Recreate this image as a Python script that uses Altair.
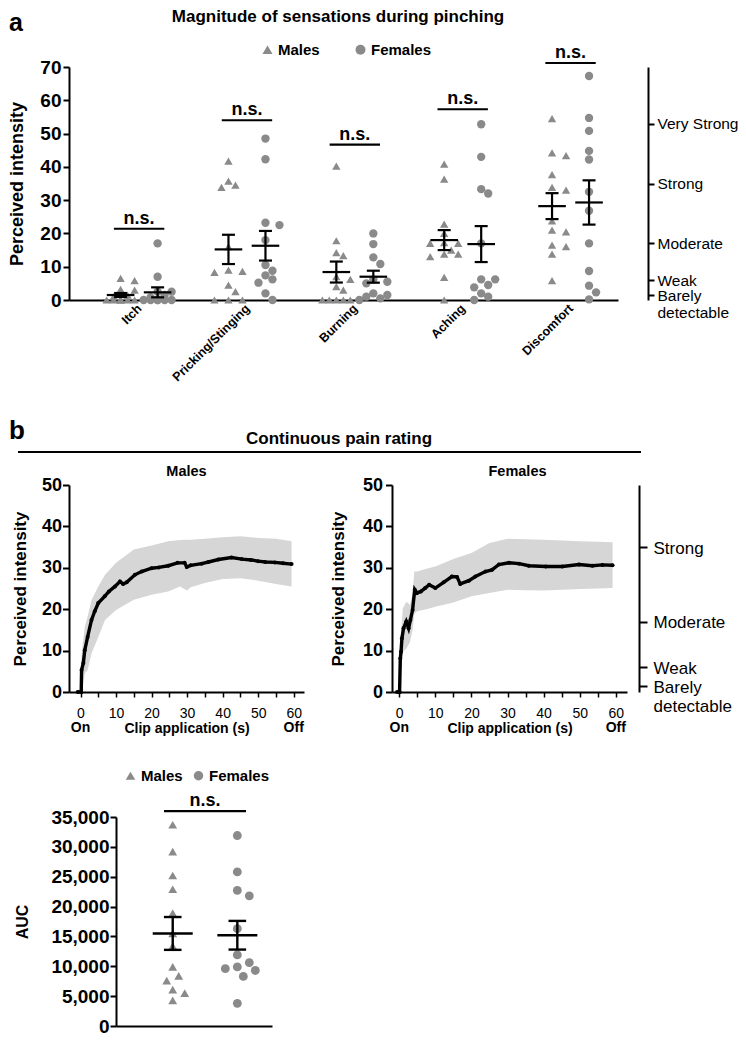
import json
import altair as alt
import pandas as pd

FONT = "Liberation Sans, Arial, Helvetica, sans-serif"
GRAY = "#8a8a8a"
BAND = "#d6d6d6"

# ---------------- panel a data ----------------
categories = ["Itch", "Pricking/Stinging", "Burning", "Aching", "Discomfort"]
itch_m = [6.5, 5.8, 3.2, 3.0, 1.5, 1.0, 0, 0, 0, 0, 0, 0, 0]
itch_f = [17.0, 7.0, 2.5, 2.5, 1.5, 0.8, 0, 0, 0, 0, 0, 0]
pricking_m = [41.7, 35.7, 34.5, 33.8, 16.0, 9.0, 8.6, 8.3, 4.5, 2.5, 0, 0, 0]
pricking_f = [48.5, 42.3, 23.2, 22.5, 18.0, 10.5, 8.8, 7.4, 6.2, 5.2, 2.0, 0]
burning_m = [40.2, 17.8, 14.2, 13.3, 7.0, 6.2, 4.0, 3.0, 0, 0, 0, 0, 0]
burning_f = [20.0, 16.8, 12.8, 10.8, 6.2, 5.5, 5.0, 2.0, 1.5, 1.0, 0.5, 0]
aching_m = [40.8, 36.3, 22.8, 20.0, 17.2, 17.0, 17.0, 15.0, 13.8, 13.8, 13.0, 6.8, 0]
aching_f = [52.8, 43.0, 33.3, 32.0, 17.0, 6.2, 6.2, 4.5, 3.8, 2.0, 1.0, 0]
discomfort_m = [54.5, 44.2, 43.4, 37.7, 33.8, 33.0, 23.8, 21.0, 20.5, 16.5, 16.0, 13.8, 5.8]
discomfort_f = [67.3, 54.7, 50.8, 44.8, 42.2, 32.5, 26.8, 17.0, 8.7, 4.3, 2.3, 0.2]
mean_m_a = [1.5, 15.2, 8.4, 18.0, 28.2]
sem_m_a = [0.6, 4.4, 3.15, 3.0, 3.9]
mean_f_a = [2.3, 16.3, 7.0, 16.8, 29.3]
sem_f_a = [1.5, 4.45, 1.8, 5.4, 6.65]
ns_a = [21.4, 54.0, 46.7, 57.3, 71.2]
glms_labels = ["Barely\ndetectable", "Weak", "Moderate", "Strong", "Very Strong"]
glms_values = [1.4, 6, 17, 35, 53]

# ---------------- panel b data ----------------
t_m = [-0.8, 0.2, 0.3, 0.8, 1.2, 2.0, 3.1, 4.0, 5.0, 6.8, 8.0, 9.7, 11.1, 12.0, 13.0,
       15.3, 17.2, 20.0, 22.0, 24.7, 27.3, 29.3, 29.9, 31.0, 34.1, 36.0, 38.8, 42.5,
       45.4, 48.0, 50.0, 52.0, 54.7, 57.0, 59.4]
v_m = [0, 0, 5.3, 7.0, 10.1, 13.3, 17.4, 19.5, 21.5, 23.1, 24.3, 25.5, 26.7, 26.1, 26.5,
       28.3, 29.1, 29.9, 30.1, 30.5, 31.2, 31.2, 30.2, 30.6, 31.0, 31.4, 32.0, 32.5,
       32.1, 31.9, 31.6, 31.4, 31.3, 31.1, 30.9]
tb_m = [-0.2, 0.3, 1.2, 2.0, 3.1, 5.0, 6.9, 10.0, 15.0, 20.0, 24.7, 28.0, 30.0, 31.0,
        35.0, 40.0, 45.0, 50.0, 55.0, 59.4]
lo_m = [0, 0, 4.5, 5.3, 9.3, 13.3, 17.4, 19.8, 22.3, 23.5, 24.3, 25.5, 24.5, 25.3,
        26.3, 27.3, 27.5, 26.9, 26.1, 25.5]
hi_m = [0, 9.0, 15.8, 18.2, 22.2, 25.5, 28.3, 31.2, 34.4, 35.4, 36.4, 36.7, 36.8, 36.8,
        37.0, 37.4, 37.6, 37.2, 37.0, 36.4]
t_f = [-0.6, 0.1, 0.3, 0.5, 0.75, 1.2, 1.95, 2.6, 3.1, 3.7, 4.3, 4.9, 6.0, 7.2, 8.3,
       10.0, 12.3, 14.6, 16.0, 16.9, 19.3, 21.1, 23.9, 25.7, 27.6, 30.4, 33.2, 35.9,
       40.6, 45.2, 49.8, 53.5, 56.3, 59.1]
v_f = [0, 0, 8.1, 9.7, 13.0, 15.4, 17.0, 15.4, 17.4, 19.8, 24.7, 23.9, 24.3, 25.1, 25.9,
       25.1, 26.5, 27.9, 27.8, 26.1, 26.9, 27.9, 29.1, 29.5, 30.8, 31.2, 31.0, 30.5,
       30.3, 30.3, 30.8, 30.5, 30.7, 30.6]
tb_f = [-0.2, 0.3, 1.0, 2.0, 3.0, 3.7, 4.2, 5.0, 7.5, 10.0, 15.0, 20.0, 25.0, 30.0,
        35.0, 40.0, 45.0, 50.0, 55.0, 59.1]
lo_f = [0, 3.0, 9.7, 10.5, 12.1, 15.0, 19.0, 19.5, 20.0, 20.6, 21.6, 23.1, 23.9, 24.7,
        24.6, 24.5, 24.7, 24.9, 25.0, 25.1]
hi_f = [0, 12.0, 20.2, 21.8, 21.0, 24.0, 29.1, 29.1, 29.8, 30.3, 32.1, 33.6, 36.0, 37.0,
        36.9, 36.8, 36.6, 36.4, 36.3, 36.2]
clip_marks = ["On", "Off"]
clip_times = [0, 60]

# ---------------- panel c data ----------------
auc_m = [33700, 29200, 25200, 22900, 18900, 15500, 13400, 9900, 8400, 7600, 6100, 5500, 4300]
auc_f = [31900, 25800, 22700, 21800, 16300, 11900, 10600, 9900, 9600, 9300, 8300, 3800]
auc_mean = [15500, 15200]
auc_sem = [2750, 2400]
auc_ns = 36000

SEXES = ["Males", "Females"]


def swarm(values, px_y, step, diam, max_steps):
    """simple deterministic beeswarm: horizontal pixel offsets per point"""
    order = sorted(range(len(values)), key=lambda i: -values[i])
    cands = [0.0]
    for k in range(1, max_steps + 1):
        cands += [k * step, -k * step]
    placed, out = [], [0.0] * len(values)
    for i in order:
        y = values[i] * px_y
        chosen, best_c, best_d = None, 0.0, -1.0
        for c in cands:
            d = min((((c - px) ** 2 + (y - py) ** 2) ** 0.5 for px, py in placed), default=1e9)
            if d >= diam:
                chosen = c
                break
            if d > best_d:
                best_d, best_c = d, c
        if chosen is None:
            chosen = best_c
        placed.append((chosen, y))
        out[i] = chosen
    return out


def sc(dom):
    return alt.Scale(domain=dom, nice=False, zero=False)


def txt(label, x, y, size, weight="bold", align="left", baseline="alphabetic"):
    return alt.Chart(pd.DataFrame({"t": [label]})).mark_text(
        font=FONT, fontSize=size, fontWeight=weight, align=align, baseline=baseline, color="black"
    ).encode(text="t:N", x=alt.value(x), y=alt.value(y))


def spacer(y):
    # invisible tiny point: fixes the vertical extent of a panel for the layout
    return alt.Chart(pd.DataFrame({"d": [0]})).mark_point(
        opacity=0, filled=True, size=1, strokeWidth=0).encode(x=alt.value(0), y=alt.value(y))


def glms_expr(values, labels):
    expr = "''"
    for v, lab in zip(values, labels):
        part = json.dumps(lab.split("\n")) if "\n" in lab else json.dumps(lab)
        expr = f"abs(datum.value - {v}) < 0.01 ? {part} : ({expr})"
    return expr


def indep(ch):
    return ch.resolve_axis(x="independent", y="independent")


# ======================= panel a =======================
WA, HA = 549, 233
A_XDOM = [-0.65, 4.44]
A_YDOM = [0, 70]
A_PX_X = WA / (A_XDOM[1] - A_XDOM[0])
A_PX_Y = HA / (A_YDOM[1] - A_YDOM[0])
SEX_OFF_A = 18.5 / A_PX_X
MEAN_HW_A = 13.8 / A_PX_X
CAP_HW_A = 6.5 / A_PX_X
NS_HW_A = 25.2 / A_PX_X

males_a = [itch_m, pricking_m, burning_m, aching_m, discomfort_m]
females_a = [itch_f, pricking_f, burning_f, aching_f, discomfort_f]

pts, summ, nsr = [], [], []
for k, cat in enumerate(categories):
    for sex, vals, mean, sem, sgn in (("Males", males_a[k], mean_m_a[k], sem_m_a[k], -1),
                                      ("Females", females_a[k], mean_f_a[k], sem_f_a[k], 1)):
        c = k + sgn * SEX_OFF_A
        for v, d in zip(vals, swarm(vals, A_PX_Y, 7.0, 7.5, 2)):
            pts.append(dict(pos=c + d / A_PX_X, value=v, sex=sex))
        summ.append(dict(pos=c, mean=mean, lo=mean - sem, hi=mean + sem,
                         m1=c - MEAN_HW_A, m2=c + MEAN_HW_A, c1=c - CAP_HW_A, c2=c + CAP_HW_A))
    nsr.append(dict(pos=k, ns=ns_a[k], n1=k - NS_HW_A, n2=k + NS_HW_A, label="n.s."))
df_pts_a = pd.DataFrame(pts)
df_sum_a = pd.DataFrame(summ)
df_ns_a = pd.DataFrame(nsr)
df_glms_a = pd.DataFrame({"value": glms_values})

cat_expr = json.dumps(categories) + "[datum.value]"

xa_axis = alt.Axis(values=list(range(len(categories))), labelExpr=cat_expr, labelAngle=-45,
                   labelAlign="right", labelBaseline="middle", labelFontSize=12.5,
                   labelFontWeight="bold", labelPadding=6, ticks=False, domainWidth=2,
                   title=None, labelOverlap=False, labelFlush=False)
ya_axis = alt.Axis(values=list(range(0, 71, 10)), labelFontSize=19, labelFontWeight="bold",
                   labelPadding=2, tickSize=6, tickWidth=2, domainWidth=2,
                   title="Perceived intensity", titleFontSize=18, titleFontWeight="bold",
                   titlePadding=13.5)
legend_a = alt.Legend(orient="none", legendX=191, legendY=-25, direction="horizontal",
                      title=None, labelFontSize=15, labelFontWeight="bold", labelFont=FONT,
                      labelColor="black", symbolSize=100, symbolFillColor=GRAY,
                      symbolStrokeWidth=0, columnPadding=33, labelOffset=3, padding=0)

shape_scale = alt.Scale(domain=SEXES, range=["triangle-up", "circle"])

a_points = alt.Chart(df_pts_a).mark_point(filled=True, opacity=1, strokeWidth=0, size=70).encode(
    x=alt.X("pos:Q", scale=sc(A_XDOM), axis=xa_axis),
    y=alt.Y("value:Q", scale=sc(A_YDOM), axis=ya_axis),
    shape=alt.Shape("sex:N", scale=shape_scale, legend=legend_a),
    color=alt.value(GRAY),
)
rule_kw = dict(color="black", strokeWidth=2.2)
a_mean = alt.Chart(df_sum_a).mark_rule(**rule_kw).encode(
    x=alt.X("m1:Q", scale=sc(A_XDOM), axis=None), x2="m2:Q",
    y=alt.Y("mean:Q", scale=sc(A_YDOM), axis=None))
a_whisk = alt.Chart(df_sum_a).mark_rule(**rule_kw).encode(
    x=alt.X("pos:Q", scale=sc(A_XDOM), axis=None),
    y=alt.Y("lo:Q", scale=sc(A_YDOM), axis=None), y2="hi:Q")
a_cap_lo = alt.Chart(df_sum_a).mark_rule(**rule_kw).encode(
    x=alt.X("c1:Q", scale=sc(A_XDOM), axis=None), x2="c2:Q",
    y=alt.Y("lo:Q", scale=sc(A_YDOM), axis=None))
a_cap_hi = alt.Chart(df_sum_a).mark_rule(**rule_kw).encode(
    x=alt.X("c1:Q", scale=sc(A_XDOM), axis=None), x2="c2:Q",
    y=alt.Y("hi:Q", scale=sc(A_YDOM), axis=None))
a_ns_rule = alt.Chart(df_ns_a).mark_rule(**rule_kw).encode(
    x=alt.X("n1:Q", scale=sc(A_XDOM), axis=None), x2="n2:Q",
    y=alt.Y("ns:Q", scale=sc(A_YDOM), axis=None))
a_ns_text = alt.Chart(df_ns_a).mark_text(font=FONT, fontSize=18, fontWeight="bold",
                                         baseline="alphabetic", dy=-5, color="black").encode(
    x=alt.X("pos:Q", scale=sc(A_XDOM), axis=None),
    y=alt.Y("ns:Q", scale=sc(A_YDOM), axis=None), text="label:N")
a_glms = alt.Chart(df_glms_a).mark_point(opacity=0).encode(
    y=alt.Y("value:Q", scale=sc(A_YDOM), axis=alt.Axis(
        orient="right", offset=30, values=glms_values,
        labelExpr=glms_expr(glms_values, glms_labels), labelFontSize=15.5,
        labelFontWeight="normal", tickSize=6, tickWidth=2, domainWidth=2, labelPadding=3,
        title=None, labelBaseline="top", labelOffset=-6.7, labelLineHeight=17,
        labelOverlap=False, labelFlush=False)))

panel_a = indep(alt.layer(
    a_points, a_mean, a_whisk, a_cap_lo, a_cap_hi, a_ns_rule, a_ns_text, a_glms,
    txt("a", -60, -36, 25),
    txt("Magnitude of sensations during pinching", 269, -45, 17, align="center"),
    spacer(335),
)).properties(width=WA, height=HA)

# ======================= panel b =======================
WB, HB = 235, 207
B_YDOM = [0, 50]


def xb_axis():
    return alt.Axis(values=list(range(0, 61, 5)),
                    labelExpr="datum.value % 10 === 0 ? datum.label : ''",
                    tickSize=5, tickWidth=1.5, domainWidth=2, labelFontSize=14,
                    labelFontWeight="normal", labelPadding=9, title="Clip application (s)",
                    titleFontSize=14, titleFontWeight="bold", titlePadding=1,
                    labelFlush=False, labelOverlap=False)


def yb_axis(lab_pad, title_pad):
    return alt.Axis(values=list(range(0, 51, 10)), labelFontSize=18, labelFontWeight="bold",
                    labelPadding=lab_pad, tickSize=6.5, tickWidth=2, domainWidth=2,
                    title="Perceived intensity", titleFontSize=17, titleFontWeight="bold",
                    titlePadding=title_pad)


def pain_panel(xdom, tb, lo, hi, t, v, label, label_dx, lab_pad, title_pad, extra):
    band = alt.Chart(pd.DataFrame({"t": tb, "lo": lo, "hi": hi})).mark_area(
        color=BAND, opacity=1).encode(
        x=alt.X("t:Q", scale=sc(xdom), axis=xb_axis()),
        y=alt.Y("lo:Q", scale=sc(B_YDOM), axis=yb_axis(lab_pad, title_pad)), y2="hi:Q")
    dfl = pd.DataFrame({"t": t, "v": v})
    line = alt.Chart(dfl).mark_line(color="black", strokeWidth=3.4).encode(
        x=alt.X("t:Q", scale=sc(xdom), axis=None),
        y=alt.Y("v:Q", scale=sc(B_YDOM), axis=None))
    dots = alt.Chart(dfl).mark_circle(color="black", size=16, opacity=1).encode(
        x=alt.X("t:Q", scale=sc(xdom), axis=None),
        y=alt.Y("v:Q", scale=sc(B_YDOM), axis=None))
    onoff = alt.Chart(pd.DataFrame({"t": clip_times, "lab": clip_marks})).mark_text(
        font=FONT, fontSize=14, fontWeight="bold", baseline="alphabetic", color="black").encode(
        x=alt.X("t:Q", scale=sc(xdom), axis=None), y=alt.value(HB + 40), text="lab:N")
    sub = txt(label, WB / 2 + label_dx, -9, 14.5, align="center")
    return indep(alt.layer(band, line, dots, onoff, sub, *extra)).properties(width=WB, height=HB)


M_XDOM = [-3.24, 62.9]
F_XDOM = [-2.0, 63.1]
M_PX = WB / (M_XDOM[1] - M_XDOM[0])
header_line = alt.Chart(pd.DataFrame({"x1": [M_XDOM[0] - 51 / M_PX],
                                      "x2": [M_XDOM[0] + 572 / M_PX]})).mark_rule(
    color="black", strokeWidth=2).encode(
    x=alt.X("x1:Q", scale=sc(M_XDOM), axis=None), x2="x2:Q", y=alt.value(-33))
header = [
    txt("b", -60, -46, 26),
    txt("Continuous pain rating", 270, -41, 17, align="center"),
    header_line,
    spacer(-78),
    spacer(269),
]
males_b = pain_panel(M_XDOM, tb_m, lo_m, hi_m, t_m, v_m, "Males", 0, 1, 12, header)

glms_b_vals = [v for v in glms_values if v <= 50]
glms_b_labs = [lab for v, lab in zip(glms_values, glms_labels) if v <= 50]
b_glms = alt.Chart(pd.DataFrame({"value": glms_b_vals})).mark_point(opacity=0).encode(
    y=alt.Y("value:Q", scale=sc(B_YDOM), axis=alt.Axis(
        orient="right", offset=12, values=glms_b_vals,
        labelExpr=glms_expr(glms_b_vals, glms_b_labs), labelFontSize=17,
        labelFontWeight="normal", tickSize=8, tickWidth=2, domainWidth=2, labelPadding=6,
        title=None, labelBaseline="top", labelOffset=-7, labelLineHeight=19,
        labelOverlap=False, labelFlush=False)))
females_b = pain_panel(F_XDOM, tb_f, lo_f, hi_f, t_f, v_f, "Females", 8, 3, 15, [b_glms])

panel_b = alt.hconcat(males_b, females_b, spacing=88, bounds="flush")

# ======================= panel c =======================
WC, HC = 156, 209
C_PX_X = 64.6
C_XDOM = [0.122, 0.122 + WC / C_PX_X]
C_YDOM = [0, 35000]
C_PX_Y = HC / C_YDOM[1]

cp, cs = [], []
for j, (sex, vals) in enumerate(zip(SEXES, [auc_m, auc_f])):
    c = j + 1
    for v, d in zip(vals, swarm(vals, C_PX_Y, 6.0, 10.0, 3)):
        cp.append(dict(pos=c + d / C_PX_X, value=v, sex=sex))
    m, s = auc_mean[j], auc_sem[j]
    cs.append(dict(pos=c, mean=m, lo=m - s, hi=m + s, m1=c - 20 / C_PX_X, m2=c + 20 / C_PX_X,
                   c1=c - 8.8 / C_PX_X, c2=c + 8.8 / C_PX_X))
df_pts_c = pd.DataFrame(cp)
df_sum_c = pd.DataFrame(cs)
df_ns_c = pd.DataFrame([dict(pos=1.5, ns=auc_ns, n1=1.5 - 41 / C_PX_X, n2=1.5 + 41 / C_PX_X,
                             label="n.s.")])

yc_axis = alt.Axis(values=list(range(0, 35001, 5000)), labelExpr="format(datum.value, ',')",
                   labelFontSize=19, labelFontWeight="bold", labelPadding=1, tickSize=6,
                   tickWidth=2, domainWidth=2, title="AUC", titleFontSize=16,
                   titleFontWeight="bold", titlePadding=20)
xc_axis = alt.Axis(values=[1, 2], labels=False, ticks=False, domainWidth=2, title=None)
legend_c = alt.Legend(orient="none", legendX=7, legendY=-49, direction="horizontal",
                      title=None, labelFontSize=15, labelFontWeight="bold", labelFont=FONT,
                      labelColor="black", symbolSize=90, symbolFillColor=GRAY,
                      symbolStrokeWidth=0, columnPadding=8, labelOffset=3, padding=0)

shape_scale_c = alt.Scale(domain=SEXES, range=["triangle-up", "circle"])
c_points = alt.Chart(df_pts_c).mark_point(filled=True, opacity=1, strokeWidth=0, size=78).encode(
    x=alt.X("pos:Q", scale=sc(C_XDOM), axis=xc_axis),
    y=alt.Y("value:Q", scale=sc(C_YDOM), axis=yc_axis),
    shape=alt.Shape("sex:N", scale=shape_scale_c, legend=legend_c),
    color=alt.value(GRAY),
)
c_layers = [c_points]
for yf, x1, x2 in (("mean", "m1", "m2"), ("lo", "c1", "c2"), ("hi", "c1", "c2")):
    c_layers.append(alt.Chart(df_sum_c).mark_rule(color="black", strokeWidth=2.4).encode(
        x=alt.X(f"{x1}:Q", scale=sc(C_XDOM), axis=None), x2=f"{x2}:Q",
        y=alt.Y(f"{yf}:Q", scale=sc(C_YDOM), axis=None)))
c_layers.append(alt.Chart(df_sum_c).mark_rule(color="black", strokeWidth=2.4).encode(
    x=alt.X("pos:Q", scale=sc(C_XDOM), axis=None),
    y=alt.Y("lo:Q", scale=sc(C_YDOM), axis=None), y2="hi:Q"))
c_layers.append(alt.Chart(df_ns_c).mark_rule(color="black", strokeWidth=2.2).encode(
    x=alt.X("n1:Q", scale=sc(C_XDOM), axis=None), x2="n2:Q",
    y=alt.Y("ns:Q", scale=sc(C_YDOM), axis=None)))
c_layers.append(alt.Chart(df_ns_c).mark_text(font=FONT, fontSize=18, fontWeight="bold",
                                             baseline="alphabetic", dy=-5, color="black").encode(
    x=alt.X("pos:Q", scale=sc(C_XDOM), axis=None),
    y=alt.Y("ns:Q", scale=sc(C_YDOM), axis=None), text="label:N"))
c_layers.append(spacer(-58.2))
auc_chart = indep(alt.layer(*c_layers)).properties(width=WC, height=HC)

blank = alt.Chart(pd.DataFrame({"d": [0]})).mark_point(opacity=0).properties(width=1, height=1)
panel_c = alt.hconcat(blank, auc_chart, spacing=46, bounds="flush").resolve_scale(
    shape="independent").resolve_legend(shape="independent")

chart = alt.vconcat(panel_a, panel_b, panel_c, spacing=3).resolve_scale(
    shape="independent").resolve_legend(shape="independent").properties(
    padding=0
).configure_view(stroke=None).configure_axis(
    grid=False, domainColor="black", tickColor="black", labelColor="black",
    titleColor="black", labelFont=FONT, titleFont=FONT
)

chart.save("out.html", embed_options={"renderer": "svg", "actions": False})
